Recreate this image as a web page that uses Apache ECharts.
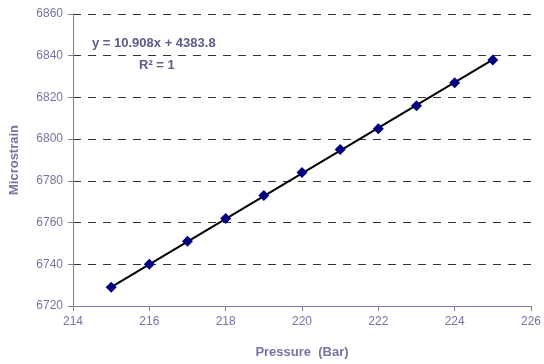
<!DOCTYPE html>
<html>
<head>
<meta charset="utf-8">
<script src="https://cdn.jsdelivr.net/npm/echarts@6/dist/echarts.min.js"></script>
<style>
  html, body { margin: 0; padding: 0; background: #fff; }
  #chart { width: 544px; height: 364px; }
</style>
</head>
<body>
<div id="chart"></div>
<script>
// Pressure (bar) readings and the strain measured at each one
const pressure = [215, 216, 217, 218, 219, 220, 221, 222, 223, 224, 225];
const microstrain = [6729, 6740, 6751, 6762, 6773, 6784, 6795, 6805, 6816, 6827, 6838];

// Linear trendline coefficients as reported on the chart
const trendSlope = 10.908;
const trendIntercept = 4383.8;
const trendR2 = 1;

// Axis ranges
const xMin = 214, xMax = 226, xStep = 2;
const yMin = 6720, yMax = 6860, yStep = 20;

const x0 = pressure[0], x1 = pressure[pressure.length - 1];
const trend = [[x0, trendSlope * x0 + trendIntercept], [x1, trendSlope * x1 + trendIntercept]];

const axisColor = '#7b7ba8';
const textColor = '#7474a4';
const eqColor = '#5c5c8c';
const font = 'Liberation Sans, Arial, sans-serif';

const chart = echarts.init(document.getElementById('chart'), null, { renderer: 'canvas' });
chart.setOption({
  animation: false,
  backgroundColor: '#ffffff',
  grid: { left: 73, right: 11, top: 14, bottom: 58 },
  xAxis: {
    type: 'value', min: xMin, max: xMax, interval: xStep,
    name: 'Pressure  (Bar)', nameLocation: 'middle', nameGap: 40,
    nameTextStyle: { color: textColor, fontWeight: 'bold', fontSize: 13, fontFamily: font },
    axisLine: { lineStyle: { color: axisColor, width: 1 } },
    axisTick: { show: true, length: 5, lineStyle: { color: axisColor } },
    axisLabel: { color: textColor, fontSize: 12, fontFamily: font, margin: 10 },
    splitLine: { show: false }
  },
  yAxis: {
    type: 'value', min: yMin, max: yMax, interval: yStep,
    name: 'Microstrain', nameLocation: 'middle', nameGap: 52,
    nameTextStyle: { color: textColor, fontWeight: 'bold', fontSize: 13, fontFamily: font },
    axisLine: { show: true, lineStyle: { color: axisColor, width: 1 } },
    axisTick: { show: true, length: 5, lineStyle: { color: axisColor } },
    axisLabel: { color: textColor, fontSize: 12, fontFamily: font, margin: 10,
                 formatter: v => String(v) },
    splitLine: { show: true, lineStyle: { color: '#333333', type: [8, 7], width: 1 } }
  },
  series: [
    {
      type: 'line', data: trend, symbol: 'none',
      lineStyle: { color: '#000000', width: 2 }, z: 2
    },
    {
      type: 'scatter',
      data: pressure.map((p, i) => [p, microstrain[i]]),
      symbol: 'diamond', symbolSize: 11,
      itemStyle: { color: '#000080', opacity: 1 }, z: 3
    }
  ],
  graphic: [
    {
      type: 'text', left: 92, top: 37,
      style: {
        text: 'y = ' + trendSlope.toFixed(3) + 'x + ' + trendIntercept.toFixed(1),
        fill: eqColor, font: 'bold 13px ' + font
      }
    },
    {
      type: 'text', left: 139, top: 59,
      style: {
        text: 'R\u00B2 = ' + trendR2,
        fill: eqColor, font: 'bold 13px ' + font
      }
    }
  ]
});
</script>
</body>
</html>
